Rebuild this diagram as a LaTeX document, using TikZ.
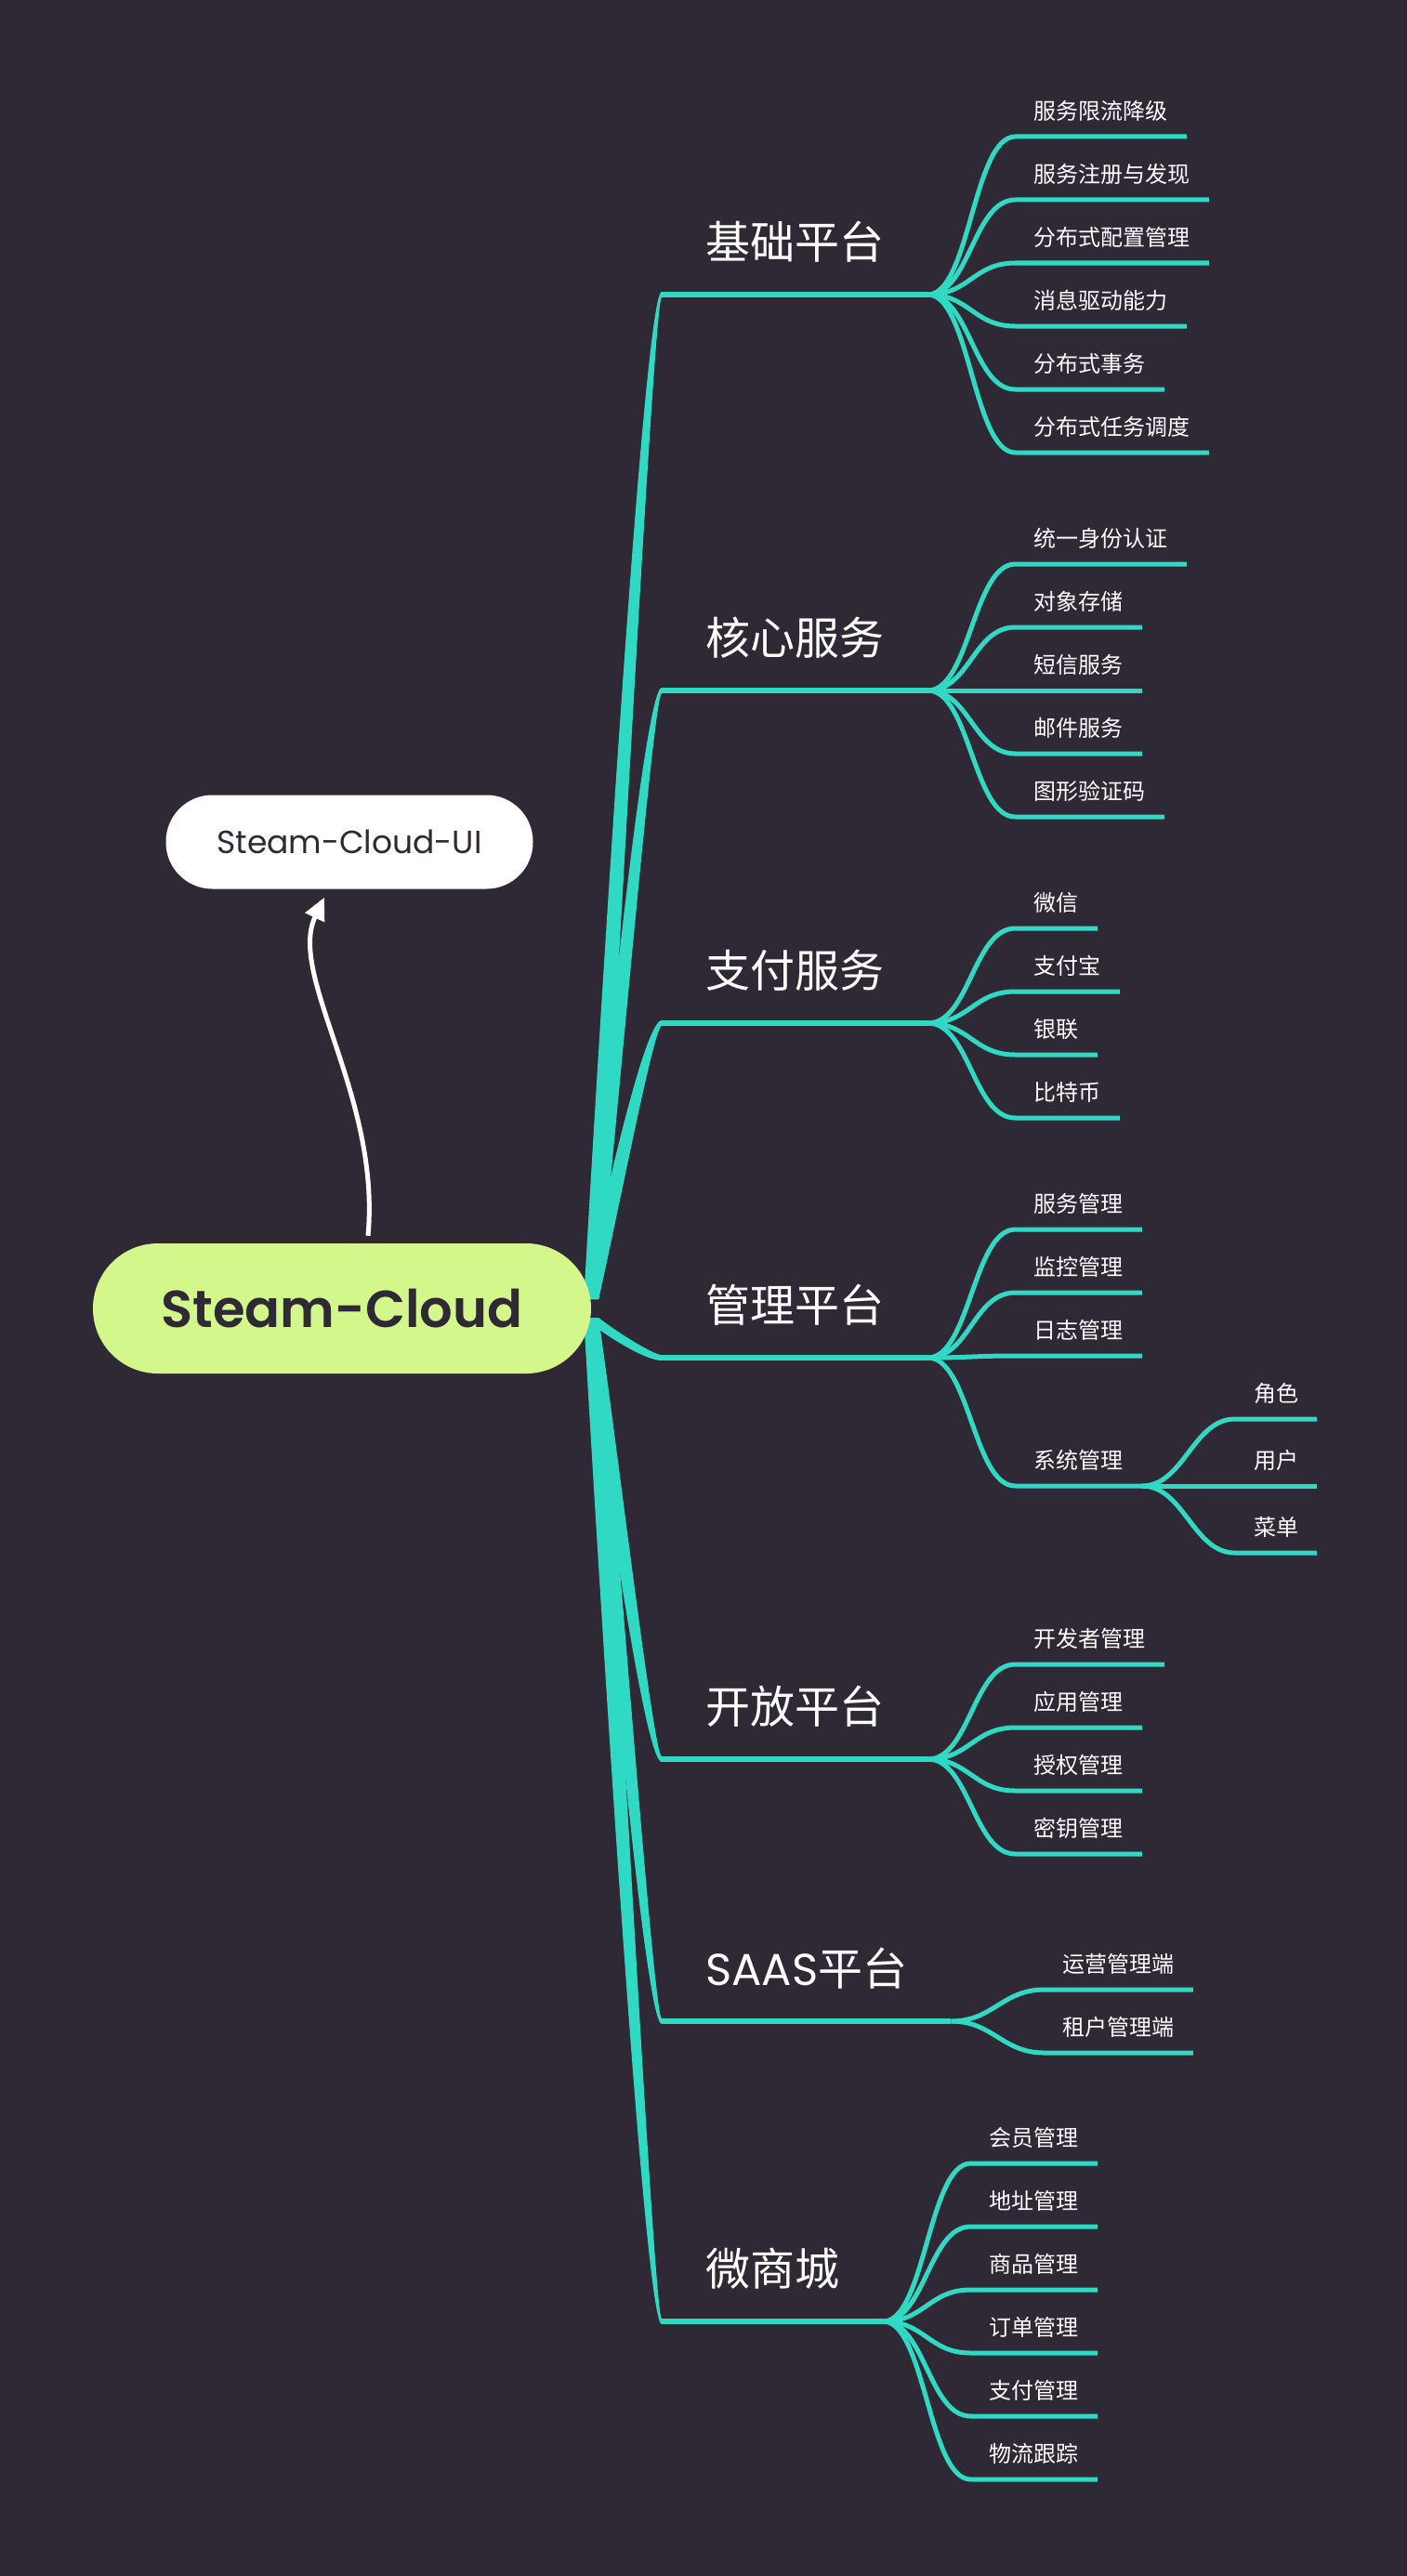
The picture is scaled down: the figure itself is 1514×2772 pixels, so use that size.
\documentclass[tikz,border=0pt]{standalone}
\usepackage{fontspec}
\setmainfont{Noto Sans CJK SC}
\newfontfamily\latin{Poppins}
\newfontfamily\latinsemi{Poppins SemiBold}
\usetikzlibrary{arrows.meta,calc}

\definecolor{mapbg}{HTML}{2F2936}
\definecolor{mapteal}{HTML}{30D9C4}
\definecolor{maplime}{HTML}{D3F78A}

\pgfdeclarelayer{back}
\pgfdeclarelayer{links}
\pgfsetlayers{back,links,main}

\tikzset{
  rootbox/.style={fill=maplime, text=mapbg, rounded corners=70pt,
    minimum width=536pt, minimum height=140pt,
    font=\latinsemi\fontsize{56}{66}\selectfont},
  uibox/.style={fill=white, text=mapbg, rounded corners=50pt,
    minimum width=395pt, minimum height=101pt,
    font=\latin\fontsize{34.5}{42}\selectfont},
  limbbox/.style={anchor=south west, text=white, inner xsep=47pt, inner ysep=0pt,
    text depth=38pt, font=\fontsize{48}{56}\selectfont},
  twigbox/.style={anchor=south west, text=white, inner xsep=20pt, inner ysep=0pt,
    text depth=18pt, font=\fontsize{24}{28}\selectfont},
  limb/.style={draw=mapteal, line width=6pt},
  twig/.style={draw=mapteal, line width=5pt},
  uiarrow/.style={draw=white, line width=5pt, -{Triangle[length=24pt,width=22pt]}},
}

% tapered stem from the root to a main branch; #2 = 1 up, -1 down
\newcommand{\mapstem}[2]{%
  \fill[mapteal] let \p1=(cloud.east), \p2=(#1.south west) in
    (\x1-8, \y1+#2*10) .. controls (\x1+14, {\y1+#2*10+0.35*(\y2-\y1)}) and (\x2-18, \y2+#2*3) .. (\x2, \y2+#2*3)
    -- (\x2, \y2-#2*3) .. controls (\x2-8, \y2-#2*3) and (\x1+32, {\y1+#2*10+0.35*(\y2-\y1)}) .. (\x1+8, \y1+#2*10) -- cycle;}

\begin{document}
\begin{tikzpicture}[x=1pt, y=-1pt]
  \useasboundingbox (0,0) rectangle (1514,2772);
  \begin{pgfonlayer}{back}
    \fill[mapbg] (0,0) rectangle (1514,2772);
  \end{pgfonlayer}

  \node[rootbox] (cloud) at (368,1408) {Steam-Cloud};
  \node[uibox] (ui) at (376,906) {Steam-Cloud-UI};

  % main branches
  \node[limbbox] (b1) at (712,317) {基础平台};
  \node[limbbox] (b2) at (712,743) {核心服务};
  \node[limbbox] (b3) at (712,1101) {支付服务};
  \node[limbbox] (b4) at (712,1461) {管理平台};
  \node[limbbox] (b5) at (712,1893) {开放平台};
  \node[limbbox] (b6) at (712,2175) {{\latin SAAS}平台};
  \node[limbbox] (b7) at (712,2498) {微商城};

  % leaves
  \foreach \t [count=\i] in {服务限流降级,服务注册与发现,分布式配置管理,消息驱动能力,分布式事务,分布式任务调度}
    \node[twigbox] (b1\i) at ($(b1.south east)+(94,{68*\i-238})$) {\t};
  \foreach \t [count=\i] in {统一身份认证,对象存储,短信服务,邮件服务,图形验证码}
    \node[twigbox] (b2\i) at ($(b2.south east)+(94,{68*\i-204})$) {\t};
  \foreach \t [count=\i] in {微信,支付宝,银联,比特币}
    \node[twigbox] (b3\i) at ($(b3.south east)+(94,{68*\i-170})$) {\t};
  \foreach \t/\d [count=\i] in {服务管理/-138,监控管理/-70,日志管理/-2,系统管理/138}
    \node[twigbox] (b4\i) at ($(b4.south east)+(94,\d)$) {\t};
  \foreach \t [count=\i] in {角色,用户,菜单}
    \node[twigbox] (b44\i) at ($(b44.south east)+(100,{72*\i-144})$) {\t};
  \foreach \t [count=\i] in {开发者管理,应用管理,授权管理,密钥管理}
    \node[twigbox] (b5\i) at ($(b5.south east)+(94,{68*\i-170})$) {\t};
  \foreach \t [count=\i] in {运营管理端,租户管理端}
    \node[twigbox] (b6\i) at ($(b6.south east)+(100,{68*\i-102})$) {\t};
  \foreach \t [count=\i] in {会员管理,地址管理,商品管理,订单管理,支付管理,物流跟踪}
    \node[twigbox] (b7\i) at ($(b7.south east)+(94,{68*\i-238})$) {\t};

  \begin{pgfonlayer}{links}
    \foreach \k/\s in {b1/1,b2/1,b3/1,b4/-1,b5/-1,b6/-1,b7/-1}{
      \mapstem{\k}{\s}
      \draw[limb] (\k.south west) -- (\k.south east);
    }
    \foreach \k/\n in {b1/6,b2/5,b3/4,b4/4,b44/3,b5/4,b6/2,b7/6}
      \foreach \i in {1,...,\n}
        \draw[twig] (\k.south east) .. controls +(45,0) and +(-45,0) .. (\k\i.south west) -- (\k\i.south east);
  \end{pgfonlayer}

  \draw[uiarrow] ($(cloud.north)+(28,-8)$) .. controls +(14,-150) and +(-40,84) .. ($(ui.south)+(-27,9)$);
\end{tikzpicture}
\end{document}
